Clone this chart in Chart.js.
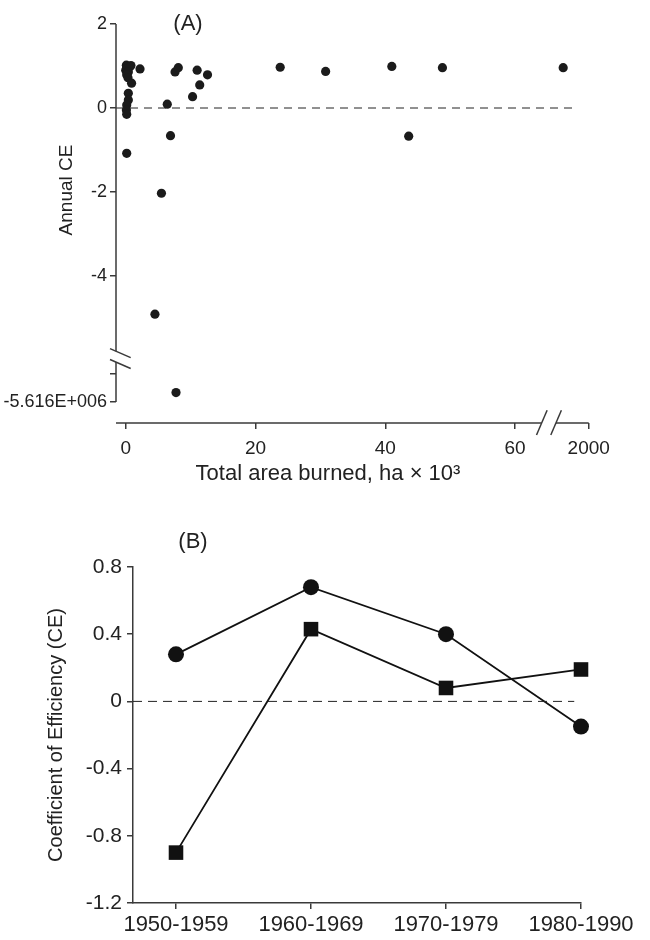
<!DOCTYPE html>
<html>
<head>
<meta charset="utf-8">
<script src="https://cdn.jsdelivr.net/npm/chart.js@4.4.0/dist/chart.umd.min.js"></script>
<style>
  html, body { margin: 0; padding: 0; background: #fff; }
  #wrapA { position: absolute; left: 0; top: 0; width: 650px; height: 490px; }
  #wrapB { position: absolute; left: 0; top: 490px; width: 650px; height: 450px; }
</style>
</head>
<body>
<div id="wrapA"><canvas id="chartA"></canvas></div>
<div id="wrapB"><canvas id="chartB"></canvas></div>
<script>
// --- Panel A: total area burned (ha x 10^3) vs annual CE ---
const areaBurned = [0.1, 0.8, 0.0, 0.15, 0.65, 0.4, 0.15, 0.35, 2.2, 0.9, 0.4, 0.4, 0.15, 0.1, 0.15,
  7.6, 8.1, 6.4, 11.0, 12.6, 11.4, 10.3, 6.9, 0.15, 5.5, 4.5,
  23.8, 30.8, 41.0, 48.8, 43.6, 1905, 7.75];
const annualCE = [1.02, 1.01, 0.90, 0.96, 0.98, 0.86, 0.79, 0.72, 0.93, 0.59, 0.35, 0.19, 0.07, -0.05, -0.15,
  0.86, 0.96, 0.09, 0.90, 0.79, 0.55, 0.27, -0.66, -1.08, -2.03, -4.91,
  0.97, 0.87, 0.99, 0.96, -0.67, 0.96, -5.41e6];

const xTicksA = [0, 20, 40, 60, 2000];
const yTicksA = [2, 0, -2, -4, -5.0e6, -5.616e6];
const yTickLabelsA = ['2', '0', '-2', '-4', '', '-5.616E+006'];

// --- Panel B: CE per decade ---
const decades = ['1950-1959', '1960-1969', '1970-1979', '1980-1990'];
const ceCircles = [0.28, 0.68, 0.40, -0.15];
const ceSquares = [-0.90, 0.43, 0.08, 0.19];
const yTicksB = [0.8, 0.4, 0, -0.4, -0.8, -1.2];

// --- Style ---
const FONT = '"Liberation Sans", Arial, sans-serif';
const TEXT = '#222';
const AXIS = '#3a3a3a';

// broken axes in panel A: map far values into the short segment past the break
const X_SEG = { from: 1900, to: 2000, posFrom: 67.2, posTo: 71.34 };
const Y_SEG = { top: -5.0e6, bottom: -5.616e6, posTop: -6.33, posBottom: -7 };
const X_CUT = [64.1, 66.3];
const Y_CUT = [-5.79, -6.05];

const xPos = (v) => v < 1000 ? v :
  X_SEG.posFrom + (v - X_SEG.from) / (X_SEG.to - X_SEG.from) * (X_SEG.posTo - X_SEG.posFrom);
const yPos = (v) => v > -1000 ? v :
  Y_SEG.posBottom + (v - Y_SEG.bottom) / (Y_SEG.top - Y_SEG.bottom) * (Y_SEG.posTop - Y_SEG.posBottom);

const line = (ctx, x1, y1, x2, y2) => {
  ctx.beginPath(); ctx.moveTo(x1, y1); ctx.lineTo(x2, y2); ctx.stroke();
};

const brokenAxesA = {
  id: 'brokenAxesA',
  afterDraw(chart) {
    const { ctx, chartArea, scales: { x, y } } = chart;
    const ax = chartArea.left, ay = chartArea.bottom;
    ctx.save();
    ctx.strokeStyle = AXIS;
    ctx.lineWidth = 1.5;

    const yTop = y.getPixelForValue(yTicksA[0]);
    const yc1 = y.getPixelForValue(Y_CUT[0]), yc2 = y.getPixelForValue(Y_CUT[1]);
    const yEnd = y.getPixelForValue(yPos(yTicksA[yTicksA.length - 1]));
    line(ctx, ax, yTop, ax, yc1);
    line(ctx, ax, yc2, ax, yEnd);
    [yc1, yc2].forEach(py => line(ctx, ax - 6, py - 2.6, ax + 14.7, py + 6.4));

    const xc1 = x.getPixelForValue(X_CUT[0]), xc2 = x.getPixelForValue(X_CUT[1]);
    const xEnd = x.getPixelForValue(xPos(xTicksA[xTicksA.length - 1]));
    line(ctx, ax, ay, xc1, ay);
    line(ctx, xc2, ay, xEnd, ay);
    [xc1, xc2].forEach(px => line(ctx, px - 5.2, ay + 12, px + 5.4, ay - 12.7));

    // panel letter and axis titles
    ctx.fillStyle = TEXT;
    ctx.textAlign = 'center';
    ctx.textBaseline = 'middle';
    ctx.font = '22px ' + FONT;
    ctx.fillText('(A)', 188, 24);
    ctx.font = '22px ' + FONT;
    ctx.fillText('Total area burned, ha × 10³', 328, 474);
    ctx.translate(67, 190);
    ctx.rotate(-Math.PI / 2);
    ctx.font = '19px ' + FONT;
    ctx.fillText('Annual CE', 0, 0);
    ctx.restore();
  }
};

const panelLabelB = {
  id: 'panelLabelB',
  afterDraw(chart) {
    const { ctx } = chart;
    ctx.save();
    ctx.fillStyle = TEXT;
    ctx.textAlign = 'center';
    ctx.textBaseline = 'middle';
    ctx.font = '22px ' + FONT;
    ctx.fillText('(B)', 193, 52);
    ctx.restore();
  }
};

Chart.defaults.font.family = FONT;
Chart.defaults.color = TEXT;

// --- Panel A chart ---
const pointsA = areaBurned.map((v, i) => ({ x: xPos(v), y: yPos(annualCE[i]) }));

new Chart(document.getElementById('chartA'), {
  type: 'scatter',
  data: {
    datasets: [
      {
        data: [{ x: -1.5, y: 0 }, { x: 69.4, y: 0 }],
        showLine: true,
        borderColor: '#222',
        borderWidth: 1,
        borderDash: [8, 6],
        pointRadius: 0
      },
      {
        data: pointsA,
        pointRadius: 4.6,
        pointBackgroundColor: '#1b1b1b',
        pointBorderWidth: 0,
        clip: false
      }
    ]
  },
  options: {
    animation: false,
    responsive: true,
    maintainAspectRatio: false,
    layout: { padding: { top: 24, right: 50, left: 0, bottom: 0 } },
    plugins: { legend: { display: false }, tooltip: { enabled: false } },
    scales: {
      x: {
        type: 'linear',
        min: -1.5,
        max: 73.08,
        afterFit: s => { s.height = 67; },
        afterBuildTicks: s => { s.ticks = xTicksA.map(v => ({ value: xPos(v) })); },
        border: { display: false },
        grid: { drawOnChartArea: false, tickLength: 6, color: AXIS, lineWidth: 1.5 },
        ticks: {
          padding: 8,
          font: { size: 19 },
          color: TEXT,
          maxRotation: 0,
          callback: (val, i) => String(xTicksA[i])
        }
      },
      y: {
        type: 'linear',
        min: -7.5,
        max: 2,
        afterFit: s => { s.width = 116; },
        afterBuildTicks: s => { s.ticks = yTicksA.map(v => ({ value: yPos(v) })); },
        border: { display: false },
        grid: { drawOnChartArea: false, tickLength: 6, color: AXIS, lineWidth: 1.5 },
        ticks: {
          padding: 3,
          font: { size: 18 },
          color: TEXT,
          callback: (val, i) => yTickLabelsA[i]
        }
      }
    }
  },
  plugins: [brokenAxesA]
});

// --- Panel B chart ---
new Chart(document.getElementById('chartB'), {
  type: 'scatter',
  data: {
    datasets: [
      {
        data: [{ x: -0.3185, y: 0 }, { x: 2.95, y: 0 }],
        showLine: true,
        borderColor: '#222',
        borderWidth: 1,
        borderDash: [9, 6],
        pointRadius: 0
      },
      {
        data: ceCircles.map((v, i) => ({ x: i, y: v })),
        showLine: true,
        borderColor: '#111',
        borderWidth: 1.8,
        pointStyle: 'circle',
        pointRadius: 8,
        pointBackgroundColor: '#111',
        pointBorderWidth: 0,
        clip: false
      },
      {
        data: ceSquares.map((v, i) => ({ x: i, y: v })),
        showLine: true,
        borderColor: '#111',
        borderWidth: 1.8,
        pointStyle: 'rect',
        pointRadius: 10.3,
        pointBackgroundColor: '#111',
        pointBorderWidth: 0,
        clip: false
      }
    ]
  },
  options: {
    animation: false,
    responsive: true,
    maintainAspectRatio: false,
    layout: { padding: { top: 77, right: 69, left: 0, bottom: 0 } },
    plugins: { legend: { display: false }, tooltip: { enabled: false } },
    scales: {
      x: {
        type: 'linear',
        min: -0.3185,
        max: 3,
        afterFit: s => { s.height = 37; },
        afterBuildTicks: s => { s.ticks = decades.map((d, i) => ({ value: i })); },
        border: { display: true, color: AXIS, width: 1.5 },
        grid: { drawOnChartArea: false, tickLength: 6, color: AXIS, lineWidth: 1.5 },
        ticks: {
          padding: 3,
          font: { size: 22 },
          color: TEXT,
          maxRotation: 0,
          callback: (val, i) => decades[i]
        }
      },
      y: {
        type: 'linear',
        min: -1.2,
        max: 0.8,
        afterFit: s => { s.width = 133; },
        afterBuildTicks: s => { s.ticks = yTicksB.map(v => ({ value: v })); },
        border: { display: true, color: AXIS, width: 1.5 },
        grid: { drawOnChartArea: false, tickLength: 6, color: AXIS, lineWidth: 1.5 },
        ticks: {
          padding: 5,
          font: { size: 21 },
          color: TEXT,
          callback: (val) => String(Math.round(val * 10) / 10)
        },
        title: {
          display: true,
          text: 'Coefficient of Efficiency (CE)',
          font: { size: 20 },
          color: TEXT,
          padding: { top: 44, bottom: 0 }
        }
      }
    }
  },
  plugins: [panelLabelB]
});
</script>
</body>
</html>
